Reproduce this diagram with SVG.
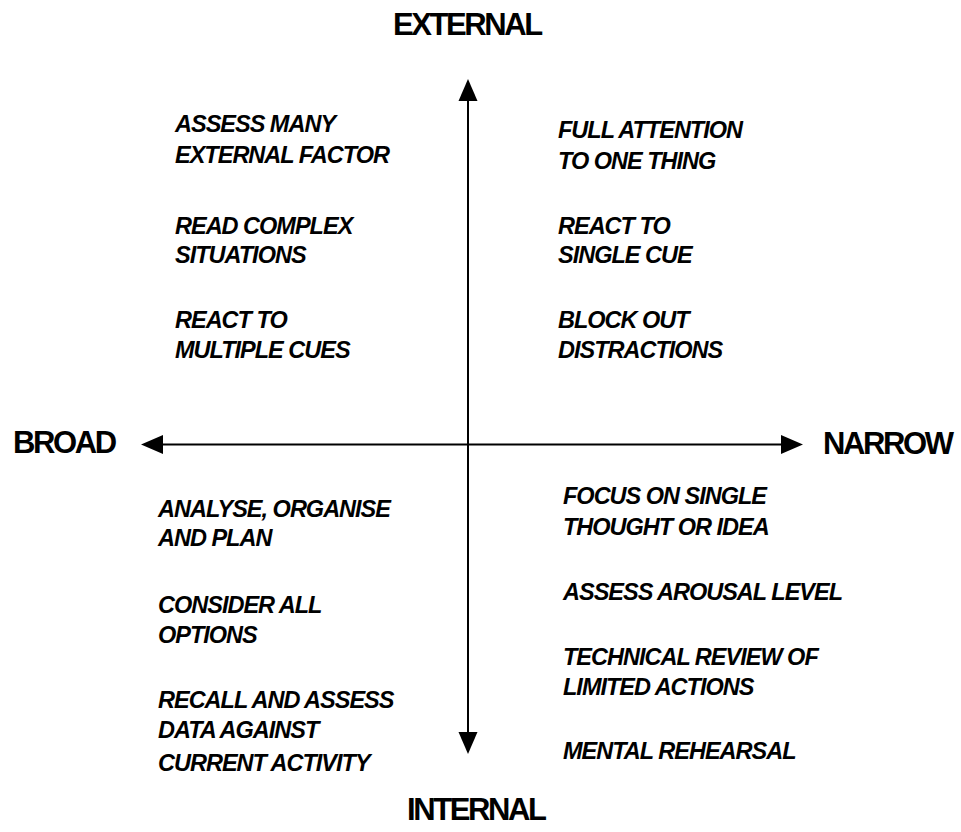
<svg xmlns="http://www.w3.org/2000/svg" width="961" height="832" viewBox="0 0 961 832">
<defs>
<marker id="arrow" markerUnits="userSpaceOnUse" markerWidth="24" markerHeight="22" viewBox="0 -11 24 22" refX="0" refY="0" orient="auto-start-reverse">
<path d="M0,-9.5 L22,0 L0,9.5 Z" fill="#000"/>
</marker>
<style>
.axis{stroke:#000;stroke-width:2;fill:none}
.hdr{font-family:"Liberation Sans",Arial,sans-serif;font-weight:bold;font-size:31px;letter-spacing:-2.4px;fill:#000}
.item{font-family:"Liberation Sans",Arial,sans-serif;font-weight:bold;font-style:italic;font-size:23.5px;letter-spacing:-1px;fill:#000}
</style>
</defs>
<rect width="961" height="832" fill="#fff"/>
<g id="connectors">
<line class="axis" x1="468" y1="101" x2="468" y2="732" marker-start="url(#arrow)" marker-end="url(#arrow)"/>
<line class="axis" x1="163" y1="444.5" x2="781" y2="444.5" marker-start="url(#arrow)" marker-end="url(#arrow)"/>
</g>
<g id="external"><text class="hdr" x="393" y="35">EXTERNAL</text></g>
<g id="internal"><text class="hdr" x="407" y="820">INTERNAL</text></g>
<g id="broad"><text class="hdr" x="13" y="453">BROAD</text></g>
<g id="narrow"><text class="hdr" x="823" y="454">NARROW</text></g>
<g id="broad-external">
<text class="item" x="175" y="132">ASSESS MANY</text>
<text class="item" x="175" y="163">EXTERNAL FACTOR</text>
<text class="item" x="175" y="234">READ COMPLEX</text>
<text class="item" x="175" y="263">SITUATIONS</text>
<text class="item" x="175" y="328">REACT TO</text>
<text class="item" x="175" y="358">MULTIPLE CUES</text>
</g>
<g id="narrow-external">
<text class="item" x="558" y="138">FULL ATTENTION</text>
<text class="item" x="558" y="169">TO ONE THING</text>
<text class="item" x="558" y="234">REACT TO</text>
<text class="item" x="558" y="263">SINGLE CUE</text>
<text class="item" x="558" y="328">BLOCK OUT</text>
<text class="item" x="558" y="358">DISTRACTIONS</text>
</g>
<g id="broad-internal">
<text class="item" x="158" y="517">ANALYSE, ORGANISE</text>
<text class="item" x="158" y="546">AND PLAN</text>
<text class="item" x="158" y="613">CONSIDER ALL</text>
<text class="item" x="158" y="643">OPTIONS</text>
<text class="item" x="158" y="708">RECALL AND ASSESS</text>
<text class="item" x="158" y="738">DATA AGAINST</text>
<text class="item" x="158" y="771">CURRENT ACTIVITY</text>
</g>
<g id="narrow-internal">
<text class="item" x="563" y="504">FOCUS ON SINGLE</text>
<text class="item" x="563" y="535">THOUGHT OR IDEA</text>
<text class="item" x="563" y="600">ASSESS AROUSAL LEVEL</text>
<text class="item" x="563" y="665">TECHNICAL REVIEW OF</text>
<text class="item" x="563" y="695">LIMITED ACTIONS</text>
<text class="item" x="563" y="759">MENTAL REHEARSAL</text>
</g>
</svg>
